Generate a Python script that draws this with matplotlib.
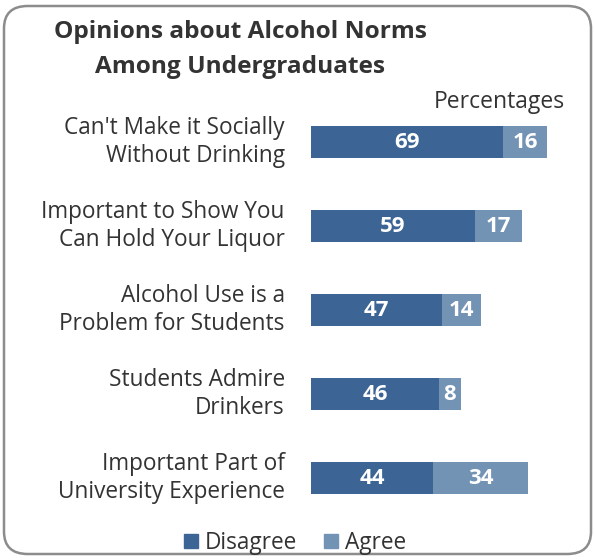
import matplotlib.pyplot as plt
from matplotlib.patches import FancyBboxPatch, Patch

categories = ["Can't Make it Socially\nWithout Drinking",
              "Important to Show You\nCan Hold Your Liquor",
              "Alcohol Use is a\nProblem for Students",
              "Students Admire\nDrinkers",
              "Important Part of\nUniversity Experience"]
disagree = [69, 59, 47, 46, 44]
agree = [16, 17, 14, 8, 34]

c_dis = '#3C6494'
c_agr = '#7393B5'

plt.rcParams['font.family'] = ['Open Sans', 'DejaVu Sans']

W, H = 595, 560
fig = plt.figure(figsize=(W / 100, H / 100), dpi=100)

# rounded border
border = FancyBboxPatch((4 / W, 6 / H), 587 / W, 548 / H,
                        boxstyle='round,pad=0,rounding_size=0.04',
                        transform=fig.transFigure, fill=False,
                        edgecolor='#8C8C8C', linewidth=1.8)
fig.patches.append(border)

ax = fig.add_axes([311 / W, 40 / H, 278 / W, 420 / H])
y = list(range(len(categories)))
ax.barh(y, disagree, height=0.38, color=c_dis, label='Disagree')
ax.barh(y, agree, left=disagree, height=0.38, color=c_agr, label='Agree')
ax.set_xlim(0, 100)
ax.set_ylim(4.5, -0.5)
ax.axis('off')

for i in y:
    ax.text(disagree[i] / 2, i, str(disagree[i]), ha='center', va='center',
            color='white', fontsize=16, fontweight='bold')
    ax.text(disagree[i] + agree[i] / 2, i, str(agree[i]), ha='center', va='center',
            color='white', fontsize=16, fontweight='bold')
    ax.text(-9.4, i, categories[i], ha='right', va='center', fontsize=16.3,
            color='#333333', linespacing=1.2)

fig.text(240 / W, 1 - 32 / H, 'Opinions about Alcohol Norms', ha='center', va='center',
         fontsize=17.6, fontweight='bold', color='#333333')
fig.text(240 / W, 1 - 67 / H, 'Among Undergraduates', ha='center', va='center',
         fontsize=17.6, fontweight='bold', color='#333333')
fig.text(499 / W, 1 - 102 / H, 'Percentages', ha='center', va='center',
         fontsize=16.5, color='#333333')

handles = [Patch(color=c_dis), Patch(color=c_agr)]
fig.legend(handles, ['Disagree', 'Agree'], loc='center', bbox_to_anchor=(295 / W, 1 - 543 / H),
           ncol=2, frameon=False, fontsize=16.3, handlelength=0.6, handleheight=0.6,
           handletextpad=0.3, columnspacing=1.2, labelcolor='#333333')

fig.savefig('out.png', dpi=100)
